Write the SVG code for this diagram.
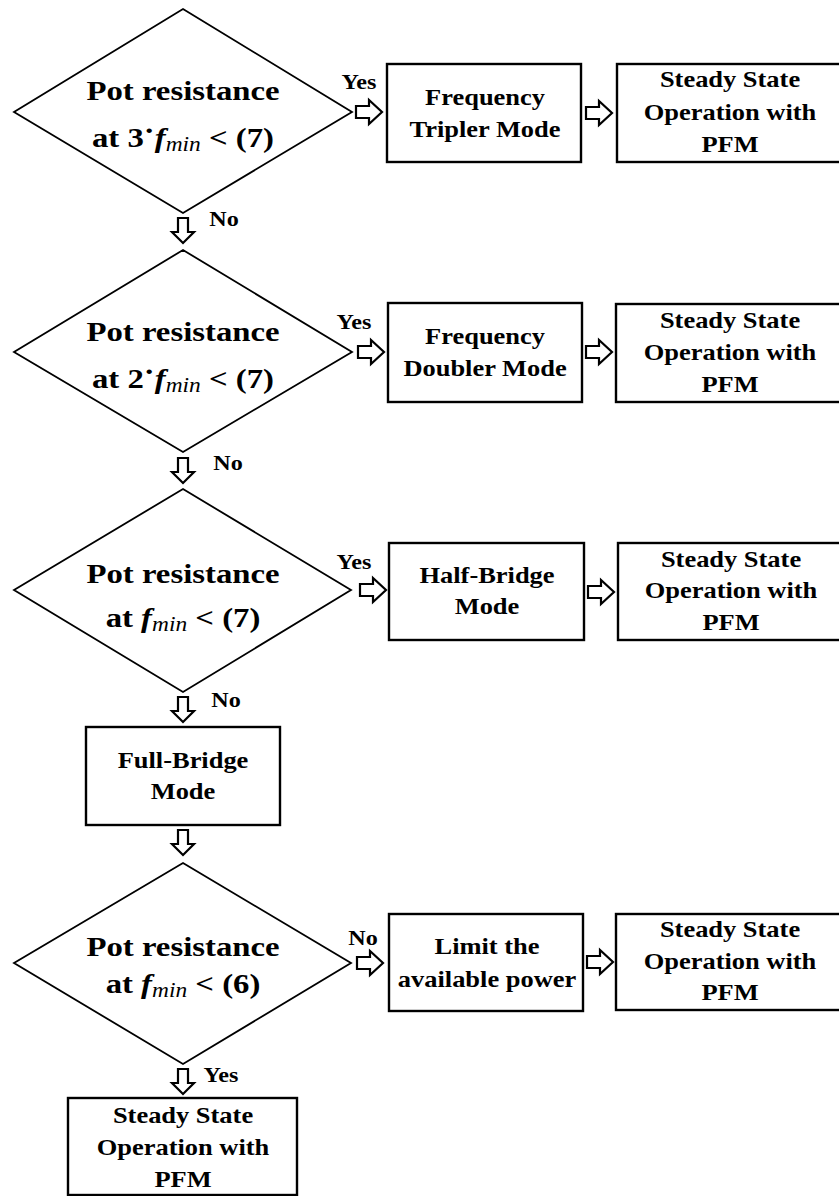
<svg xmlns="http://www.w3.org/2000/svg" width="839" height="1196" viewBox="0 0 839 1196">
  <style>
    text { font-family: "Liberation Serif", "Times New Roman", serif; font-weight: bold; fill: #000; text-anchor: middle; }
    .dt { font-size: 28px; }
    .bt { font-size: 23px; }
    .lbl { font-size: 21px; }
    .var { font-style: italic; font-weight: bold; }
    .sub { font-style: italic; font-weight: normal; font-size: 20px; }
    .dia { fill: #fff; stroke: #000; stroke-width: 1.8; stroke-linejoin: miter; }
    .box { fill: #fff; stroke: #000; stroke-width: 2.4; }
    .arr { fill: #fff; stroke: #000; stroke-width: 2.2; stroke-linejoin: miter; }
  </style>
  <defs>
    <!-- hollow block arrows, origin at the tail centre -->
    <path id="arrR" class="arr" d="M0,-6 H13 V-12 L26,0 L13,12 V6 H0 Z"/>
    <path id="arrD" class="arr" d="M-5,0 V14 H-11 L0,25 L11,14 H5 V0 Z"/>
  </defs>
  <rect width="839" height="1196" fill="#fff"/>

  <!-- decision 1 -->
  <g id="dec1">
    <polygon class="dia" points="183,9 352,112 183,213 14,112"/>
    <text class="dt" transform="translate(183 100) scale(1.17 1)">Pot resistance</text>
    <text class="dt" transform="translate(183 147) scale(1.17 1)">at 3<tspan baseline-shift="28%">·</tspan><tspan class="var">f</tspan><tspan class="sub" baseline-shift="-18%">min</tspan><tspan> &lt; (7)</tspan></text>
  </g>
  <g id="tripler">
    <rect class="box" x="387" y="64" width="194" height="98"/>
    <text class="bt" transform="translate(485 105) scale(1.15 1)">Frequency</text>
    <text class="bt" transform="translate(485 137) scale(1.15 1)">Tripler Mode</text>
  </g>
  <g id="steady1">
    <rect class="box" x="617" y="64" width="228" height="98"/>
    <text class="bt" transform="translate(730 87) scale(1.15 1)">Steady State</text>
    <text class="bt" transform="translate(730 120) scale(1.15 1)">Operation with</text>
    <text class="bt" transform="translate(730 152) scale(1.15 1)">PFM</text>
  </g>

  <!-- decision 2 -->
  <g id="dec2">
    <polygon class="dia" points="183,250 352,352 183,452 14,352"/>
    <text class="dt" transform="translate(183 341) scale(1.17 1)">Pot resistance</text>
    <text class="dt" transform="translate(183 388) scale(1.17 1)">at 2<tspan baseline-shift="28%">·</tspan><tspan class="var">f</tspan><tspan class="sub" baseline-shift="-18%">min</tspan><tspan> &lt; (7)</tspan></text>
  </g>
  <g id="doubler">
    <rect class="box" x="388" y="303" width="194" height="99"/>
    <text class="bt" transform="translate(485 344) scale(1.15 1)">Frequency</text>
    <text class="bt" transform="translate(485 376) scale(1.15 1)">Doubler Mode</text>
  </g>
  <g id="steady2">
    <rect class="box" x="616" y="304" width="229" height="98"/>
    <text class="bt" transform="translate(730 328) scale(1.15 1)">Steady State</text>
    <text class="bt" transform="translate(730 360) scale(1.15 1)">Operation with</text>
    <text class="bt" transform="translate(730 392) scale(1.15 1)">PFM</text>
  </g>

  <!-- decision 3 -->
  <g id="dec3">
    <polygon class="dia" points="183,489 351,590 183,692 14,590"/>
    <text class="dt" transform="translate(183 583) scale(1.17 1)">Pot resistance</text>
    <text class="dt" transform="translate(183 627) scale(1.17 1)">at <tspan class="var">f</tspan><tspan class="sub" baseline-shift="-18%">min</tspan><tspan> &lt; (7)</tspan></text>
  </g>
  <g id="halfbridge">
    <rect class="box" x="389" y="543" width="195" height="97"/>
    <text class="bt" transform="translate(487 583) scale(1.15 1)">Half-Bridge</text>
    <text class="bt" transform="translate(487 614) scale(1.15 1)">Mode</text>
  </g>
  <g id="steady3">
    <rect class="box" x="618" y="543" width="227" height="97"/>
    <text class="bt" transform="translate(731 567) scale(1.15 1)">Steady State</text>
    <text class="bt" transform="translate(731 598) scale(1.15 1)">Operation with</text>
    <text class="bt" transform="translate(731 630) scale(1.15 1)">PFM</text>
  </g>

  <!-- full-bridge stage -->
  <g id="fullbridge">
    <rect class="box" x="86" y="727" width="194" height="98"/>
    <text class="bt" transform="translate(183 768) scale(1.15 1)">Full-Bridge</text>
    <text class="bt" transform="translate(183 799) scale(1.15 1)">Mode</text>
  </g>

  <!-- decision 4 -->
  <g id="dec4">
    <polygon class="dia" points="183,863 351,963 183,1064 14,963"/>
    <text class="dt" transform="translate(183 956) scale(1.17 1)">Pot resistance</text>
    <text class="dt" transform="translate(183 993) scale(1.17 1)">at <tspan class="var">f</tspan><tspan class="sub" baseline-shift="-18%">min</tspan><tspan> &lt; (6)</tspan></text>
  </g>
  <g id="limit">
    <rect class="box" x="389" y="914" width="194" height="97"/>
    <text class="bt" transform="translate(487 954) scale(1.15 1)">Limit the</text>
    <text class="bt" transform="translate(487 987) scale(1.15 1)">available power</text>
  </g>
  <g id="steady4">
    <rect class="box" x="616" y="914" width="229" height="96"/>
    <text class="bt" transform="translate(730 937) scale(1.15 1)">Steady State</text>
    <text class="bt" transform="translate(730 969) scale(1.15 1)">Operation with</text>
    <text class="bt" transform="translate(730 1000) scale(1.15 1)">PFM</text>
  </g>
  <g id="steady5">
    <rect class="box" x="68" y="1098" width="229" height="97"/>
    <text class="bt" transform="translate(183 1123) scale(1.15 1)">Steady State</text>
    <text class="bt" transform="translate(183 1155) scale(1.15 1)">Operation with</text>
    <text class="bt" transform="translate(183 1187) scale(1.15 1)">PFM</text>
  </g>

  <!-- connectors -->
  <g id="connectors">
    <use href="#arrR" x="356" y="112"/>
    <use href="#arrR" x="586" y="113"/>
    <use href="#arrD" x="183" y="218"/>
    <use href="#arrR" x="358" y="352"/>
    <use href="#arrR" x="586" y="352"/>
    <use href="#arrD" x="183" y="458"/>
    <use href="#arrR" x="360" y="590"/>
    <use href="#arrR" x="588" y="592"/>
    <use href="#arrD" x="183" y="697"/>
    <use href="#arrD" x="183" y="830"/>
    <use href="#arrR" x="357" y="963"/>
    <use href="#arrR" x="587" y="962"/>
    <use href="#arrD" x="183" y="1069"/>
    <text class="lbl" transform="translate(359 89) scale(1.15 1)">Yes</text>
    <text class="lbl" transform="translate(224 226) scale(1.15 1)">No</text>
    <text class="lbl" transform="translate(354 329) scale(1.15 1)">Yes</text>
    <text class="lbl" transform="translate(228 470) scale(1.15 1)">No</text>
    <text class="lbl" transform="translate(354 569) scale(1.15 1)">Yes</text>
    <text class="lbl" transform="translate(226 707) scale(1.15 1)">No</text>
    <text class="lbl" transform="translate(363 945) scale(1.15 1)">No</text>
    <text class="lbl" transform="translate(221 1082) scale(1.15 1)">Yes</text>
  </g>
</svg>
